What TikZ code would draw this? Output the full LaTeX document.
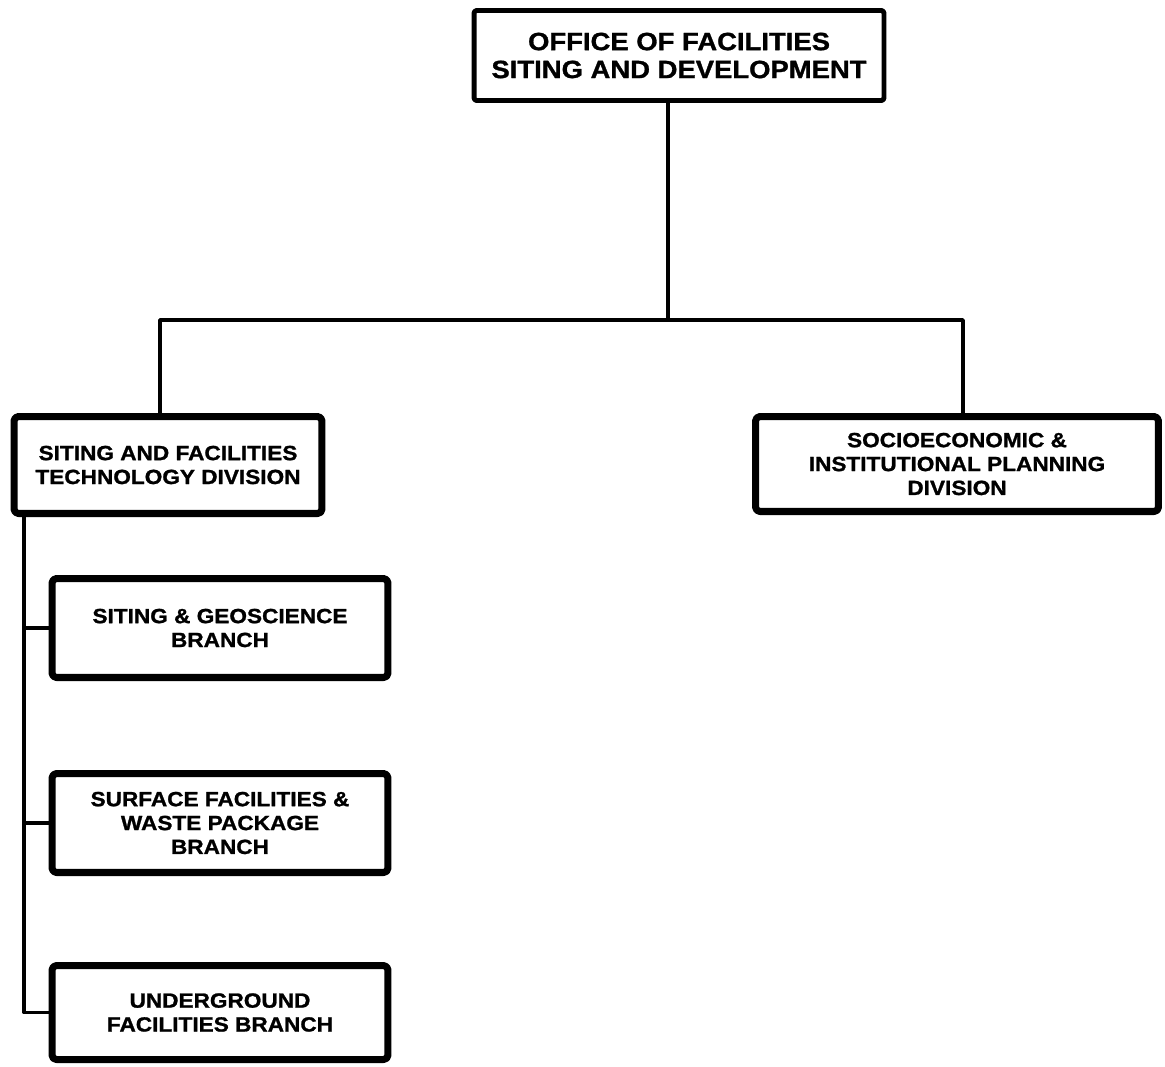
\documentclass[tikz,border=0pt]{standalone}
\usepackage{fontspec}
\setmainfont[FakeStretch=1.1, BoldFeatures={FakeBold=1.2}]{Liberation Sans}
\begin{document}
\begin{tikzpicture}[x=0.02cm, y=-0.02cm, line join=round, line cap=round,
	font=\bfseries\fontsize{11.7}{13.6}\selectfont,
	conn/.style={line width=2pt},
	unit/.style={draw, line width=4pt, rounded corners=2.5pt, align=center, inner sep=0pt},
	head/.style={draw, line width=2.8pt, rounded corners=1.5pt, align=center, inner sep=0pt, font=\bfseries\fontsize{14.2}{15.9}\selectfont}]
	\useasboundingbox (0,0) rectangle (1165,1066);
	\node[head, minimum width=8.2cm, minimum height=1.8cm] (office) at (679,55.5) {OFFICE OF FACILITIES\\SITING AND DEVELOPMENT};
	\node[unit, minimum width=6.16cm, minimum height=1.94cm] (sftd) at (168,465) {SITING AND FACILITIES\\TECHNOLOGY DIVISION};
	\node[unit, minimum width=8.06cm, minimum height=1.9cm] (siep) at (957,464) {SOCIOECONOMIC \&\\INSTITUTIONAL PLANNING\\DIVISION};
	\node[unit, minimum width=6.72cm, minimum height=1.98cm] (sgb) at (220,628) {SITING \& GEOSCIENCE\\BRANCH};
	\node[unit, minimum width=6.72cm, minimum height=1.98cm] (sfwp) at (220,823) {SURFACE FACILITIES \&\\WASTE PACKAGE\\BRANCH};
	\node[unit, minimum width=6.72cm, minimum height=1.88cm] (ugf) at (220,1012.5) {UNDERGROUND\\FACILITIES BRANCH};
	\coordinate (bus) at (668,320);
	\coordinate (spine) at (24,517);
	\draw[conn] (office.south -| bus) -- (bus);
	\draw[conn] (sftd.north -| 160,0) |- (bus) -| (siep.north -| 963,0);
	\draw[conn] (sftd.south -| spine) |- (ugf.west);
	\foreach \b in {sgb,sfwp}\draw[conn] (\b.west) -- (\b.west -| spine);
\end{tikzpicture}
\end{document}
